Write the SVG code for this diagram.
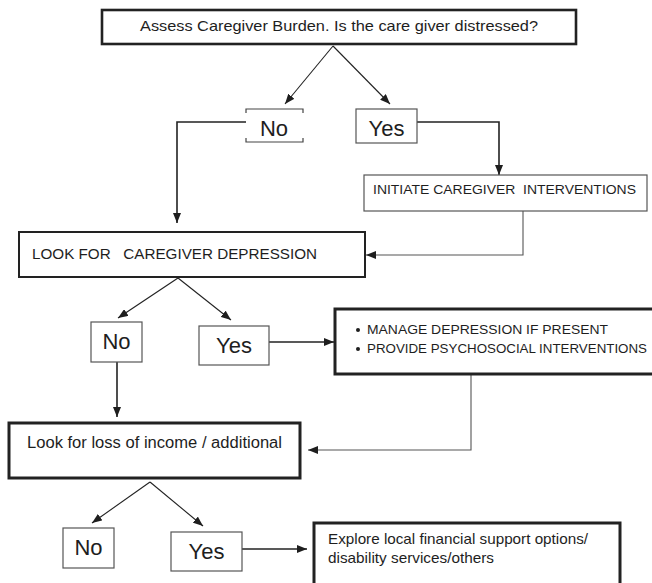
<svg xmlns="http://www.w3.org/2000/svg" width="652" height="583" viewBox="0 0 652 583">
  <style>
    text { font-family: "Liberation Sans", Arial, sans-serif; fill: #1e1e1e; white-space: pre; }
    .box { fill: #fff; stroke: #222; }
    .thin { fill: #fff; stroke: #555; stroke-width: 1.2; }
    .conn { fill: none; stroke: #222; stroke-width: 1.6; }
    .fork { fill: none; stroke: #222; stroke-width: 1.1; }
    .feed { fill: none; stroke: #555; stroke-width: 1.1; }
    .big { font-size: 22px; text-anchor: middle; }
  </style>
  <defs>
    <marker id="arrow" viewBox="0 0 10 8" refX="10" refY="4" markerUnits="userSpaceOnUse" markerWidth="10" markerHeight="8" orient="auto">
      <path d="M0,0 L10,4 L0,8 z" fill="#1e1e1e"/>
    </marker>
  </defs>

  <g id="connectors">
    <!-- first fork -->
    <path class="fork" d="M333,46 L285,104" marker-end="url(#arrow)"/>
    <path class="fork" d="M333,46 L390,104" marker-end="url(#arrow)"/>
    <path class="conn" d="M246,122 L177,122 L177,223" marker-end="url(#arrow)"/>
    <path class="conn" d="M417,122 L499,122 L499,175" marker-end="url(#arrow)"/>
    <path class="feed" d="M523,211 L523,255 L366,255" marker-end="url(#arrow)"/>
    <!-- second fork -->
    <path class="fork" d="M178,278 L118,318" marker-end="url(#arrow)"/>
    <path class="fork" d="M178,278 L231,320" marker-end="url(#arrow)"/>
    <path class="conn" d="M269,342 L334,342" marker-end="url(#arrow)"/>
    <path class="conn" d="M117,362 L117,417" marker-end="url(#arrow)"/>
    <path class="feed" d="M471,374 L471,450 L308,450" marker-end="url(#arrow)"/>
    <!-- third fork -->
    <path class="fork" d="M150,482 L92,523" marker-end="url(#arrow)"/>
    <path class="fork" d="M150,482 L203,526" marker-end="url(#arrow)"/>
    <path class="conn" d="M242,549 L307,549" marker-end="url(#arrow)"/>
  </g>

  <g id="assess">
    <rect class="box" x="102" y="10" width="474" height="34" stroke-width="2.6"/>
    <text x="339" y="31" font-size="15" text-anchor="middle" textLength="398" lengthAdjust="spacingAndGlyphs">Assess Caregiver Burden. Is the care giver distressed?</text>
  </g>

  <g id="no1">
    <rect x="246" y="109" width="57" height="33" fill="#fff"/>
    <path fill="none" stroke="#444" stroke-width="1.2" d="M246,113 V109 H303 V113 M246,138 V142 H303 V138"/>
    <text class="big" x="274" y="136">No</text>
  </g>

  <g id="yes1">
    <rect class="thin" x="356" y="109" width="61" height="34"/>
    <text class="big" x="386.5" y="136">Yes</text>
  </g>

  <g id="initiate">
    <rect class="thin" x="364" y="175" width="283" height="36" stroke="#777"/>
    <text x="373" y="194" font-size="13.5" textLength="263" lengthAdjust="spacingAndGlyphs" xml:space="preserve">INITIATE CAREGIVER  INTERVENTIONS</text>
  </g>

  <g id="depression">
    <rect class="box" x="19" y="232" width="346" height="45" stroke-width="2"/>
    <text x="32" y="259" font-size="15" textLength="285" lengthAdjust="spacingAndGlyphs" xml:space="preserve">LOOK FOR   CAREGIVER DEPRESSION</text>
  </g>

  <g id="no2">
    <rect class="thin" x="91" y="322" width="51" height="40"/>
    <text class="big" x="116.5" y="349">No</text>
  </g>

  <g id="yes2">
    <rect class="thin" x="199" y="326" width="70" height="39"/>
    <text class="big" x="234" y="353">Yes</text>
  </g>

  <g id="manage">
    <rect class="box" x="335" y="309" width="320" height="65" stroke-width="3"/>
    <circle cx="358" cy="330" r="2" fill="#1e1e1e"/>
    <text x="367" y="334" font-size="13.5" textLength="241" lengthAdjust="spacingAndGlyphs">MANAGE DEPRESSION IF PRESENT</text>
    <circle cx="358" cy="349" r="2" fill="#1e1e1e"/>
    <text x="367" y="353" font-size="13.5" textLength="280" lengthAdjust="spacingAndGlyphs">PROVIDE PSYCHOSOCIAL INTERVENTIONS</text>
  </g>

  <g id="income">
    <rect class="box" x="9" y="423" width="291" height="55" stroke-width="3"/>
    <text x="27" y="448" font-size="16" textLength="255" lengthAdjust="spacingAndGlyphs">Look for loss of income / additional</text>
  </g>

  <g id="no3">
    <rect class="thin" x="63" y="528" width="51" height="40"/>
    <text class="big" x="88.5" y="555">No</text>
  </g>

  <g id="yes3">
    <rect class="thin" x="171" y="532" width="71" height="39"/>
    <text class="big" x="206.5" y="559">Yes</text>
  </g>

  <g id="explore">
    <rect class="box" x="314" y="523" width="306" height="70" stroke-width="3"/>
    <text x="328" y="544" font-size="15" textLength="260" lengthAdjust="spacingAndGlyphs">Explore local financial support options/</text>
    <text x="328" y="563" font-size="15" textLength="166" lengthAdjust="spacingAndGlyphs">disability services/others</text>
  </g>
</svg>
